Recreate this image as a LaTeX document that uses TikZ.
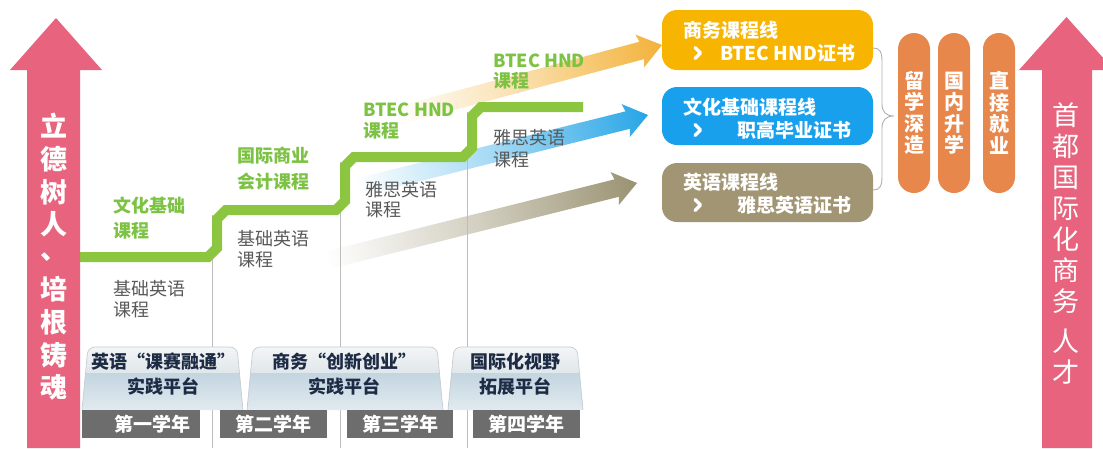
\documentclass[tikz,border=0pt]{standalone}
\usepackage{fontspec}
\setmainfont{Noto Sans CJK SC}
\definecolor{pinkA}{HTML}{E8637D}
\definecolor{stepG}{HTML}{8CC540}
\definecolor{greenT}{HTML}{7CC243}
\definecolor{grayT}{HTML}{595959}
\definecolor{lineG}{HTML}{BDBDBD}
\definecolor{arrY}{HTML}{F3B23A}
\definecolor{arrB}{HTML}{27A5E6}
\definecolor{arrO}{HTML}{9A9272}
\definecolor{boxY}{HTML}{F7B400}
\definecolor{boxB}{HTML}{19A0EC}
\definecolor{boxO}{HTML}{A29574}
\definecolor{pillO}{HTML}{E8874C}
\definecolor{barG}{HTML}{6D6D6D}
\definecolor{tabT}{HTML}{1E2B45}
\definecolor{tabA}{HTML}{F4F6F7}
\definecolor{tabB}{HTML}{E0E6EA}
\definecolor{tabC}{HTML}{C3D5E0}
\definecolor{tabD}{HTML}{E2EBF0}
\definecolor{tabL}{HTML}{C5CCD2}
\definecolor{braceG}{HTML}{B0B0B0}
\newcommand\mytab[2]{%
  \begin{scope}
    \clip (#1,410) [rounded corners=7] -- (#1+6,347) -- (#2-6,347) [sharp corners] -- (#2,410) -- cycle;
    \shade[top color=tabA,bottom color=tabB] (#1,346) rectangle (#2,373);
    \shade[top color=tabC,bottom color=tabD] (#1,373) rectangle (#2,411);
  \end{scope}
  \draw[tabL,line width=0.7] (#1,410) [rounded corners=7] -- (#1+6,347) -- (#2-6,347) [sharp corners] -- (#2,410);
}
\tikzset{
  glab/.style={anchor=west,inner sep=0,align=left,text=greenT,font=\bfseries\fontsize{18}{#1}\selectfont},
  tlab/.style={anchor=west,inner sep=0,align=left,text=grayT,font=\fontsize{18}{#1}\selectfont},
  stepline/.style={draw=stepG,line width=10,miter limit=4},
  vline/.style={draw=lineG,line width=0.8},
  tabtext/.style={inner sep=0,align=center,text=tabT,font=\bfseries\fontsize{18}{25}\selectfont},
  yearbar/.style={fill=barG,text=white,inner sep=0,minimum height=28,font=\bfseries\fontsize{19}{19}\selectfont},
  cbox/.style={rounded corners=15,inner sep=0,minimum width=211},
  btext/.style={anchor=west,inner sep=0,text=white,font=\bfseries\fontsize{19}{19}\selectfont},
  chev/.style={draw=white,line width=3.4,line cap=round,line join=round},
  pill/.style={fill=pillO,rounded corners=16,minimum width=32,minimum height=160,inner sep=0},
  pilltext/.style={inner sep=0,align=center,text=white,font=\bfseries\fontsize{20}{21.5}\selectfont},
  vtext/.style={inner sep=0,align=center,text=white}
}
\begin{document}
\begin{tikzpicture}[x=1pt,y=-1pt]
\useasboundingbox (0,0) rectangle (1103,448);
\clip (0,0) rectangle (1103,448);

% gradient arrows
\begin{scope}[transform canvas={shift={(662,45)},rotate=15}]
  \shade[left color=white,right color=arrY,middle color=arrY!45]
    (-275,-9) -- (-21,-9) -- (-23,-17) -- (0,0) -- (-23,17) -- (-21,9) -- (-275,9) -- cycle;
\end{scope}
\begin{scope}[transform canvas={shift={(648,115)},rotate=14}]
  \shade[left color=white,right color=arrB,middle color=arrB!45]
    (-300,-9) -- (-21,-9) -- (-23,-17) -- (0,0) -- (-23,17) -- (-21,9) -- (-300,9) -- cycle;
\end{scope}
\begin{scope}[transform canvas={shift={(637,183)},rotate=14}]
  \shade[left color=white,right color=arrO,middle color=arrO!45]
    (-320,-9) -- (-21,-9) -- (-23,-17) -- (0,0) -- (-23,17) -- (-21,9) -- (-320,9) -- cycle;
\end{scope}

% vertical separators
\draw[vline] (212,215) -- (212,448);
\draw[vline] (340,162) -- (340,448);
\draw[vline] (467,112) -- (467,448);

% green steps
\draw[stepline] (80,257) -- (208,257) -- (217,248) -- (217,219) -- (226,210) -- (336,210) -- (345,201) -- (345,166) -- (354,157) -- (463,157) -- (472,148) -- (472,116) -- (481,107) -- (583,107);

% labels
\node[glab=25] (g1) at (113,218) {文化基础\\课程};
\node[glab=26] (g2) at (237,169) {国际商业\\会计课程};
\node[glab=21] (g3) at (363,121) {BTEC HND\\课程};
\node[glab=20] (g4) at (493,72) {BTEC HND\\课程};
\node[tlab=21] (t1) at (113,299) {基础英语\\课程};
\node[tlab=21] (t2) at (237,249) {基础英语\\课程};
\node[tlab=20] (t3) at (365,200) {雅思英语\\课程};
\node[tlab=22] (t4) at (493,149) {雅思英语\\课程};

% pink arrows
\fill[pinkA] (27,448) -- (27,70) -- (10,70) -- (56,18) -- (102,70) -- (80,70) -- (80,448) -- cycle;
\node[vtext,font=\bfseries\fontsize{27}{32.6}\selectfont] (lt) at (54,257) {立\\德\\树\\人\\\raisebox{8pt}{、}\\培\\根\\铸\\魂};
\fill[pinkA] (1042,448) -- (1042,70) -- (1019,70) -- (1066.5,17) -- (1114,70) -- (1092,70) -- (1092,448) -- cycle;
\node[vtext,font=\fontsize{27}{31}\selectfont] (rt) at (1066,244) {首\\都\\国\\际\\化\\商\\务\\[9pt]人\\才};

% platforms
\mytab{82}{243}
\mytab{247}{443}
\mytab{448}{583}
\node[tabtext] (p1) at (163,374) {英语“课赛融通”\\实践平台};
\node[tabtext] (p2) at (344,374) {商务“创新创业”\\实践平台};
\node[tabtext] (p3) at (515,374) {国际化视野\\拓展平台};

% year bars
\node[yearbar,minimum width=118] (y1) at (141,424) {\hspace*{22pt}第一学年};
\node[yearbar,minimum width=107] (y2) at (273.5,424) {第二学年};
\node[yearbar,minimum width=106] (y3) at (400,424) {第三学年};
\node[yearbar,minimum width=107] (y4) at (526.5,424) {第四学年};

% course line boxes
\node[cbox,fill=boxY,minimum height=60] (bY) at (767.5,40) {};
\node[cbox,fill=boxB,minimum height=58] (bB) at (767.5,116) {};
\node[cbox,fill=boxO,minimum height=59] (bO) at (767.5,192.5) {};
\node[btext] (bY1) at (683,30) {商务课程线};
\node[btext] (bY2) at (720,53) {BTEC HND证书};
\node[btext] (bB1) at (683,107) {文化基础课程线};
\node[btext] (bB2) at (737,130) {职高毕业证书};
\node[btext] (bO1) at (683,182) {英语课程线};
\node[btext] (bO2) at (737,205) {雅思英语证书};
\coordinate (cY) at (698,53);
\coordinate (cB) at (698,130);
\coordinate (cO) at (698,205);
\foreach \c in {cY,cB,cO}
  \draw[chev] (\c) ++(-3,-5.5) -- ++(5.5,5.5) -- ++(-5.5,5.5);

% brace
\coordinate (brT) at (bY.east |- 0,48);
\coordinate (brB) at (bO.east |- 0,190);
\coordinate (brM) at (894,116);
\draw[braceG,line width=0.9] (brT) .. controls (880,48) and (882,52) .. (882,62) -- (882,104)
  .. controls (882,112) and (886,116) .. (brM)
  .. controls (886,116) and (882,120) .. (882,128) -- (882,176)
  .. controls (882,186) and (880,190) .. (brB);

% outcome pills
\node[pill] (o1) at (914,113) {};
\node[pill] (o2) at (954,113) {};
\node[pill] (o3) at (999,113) {};
\node[pilltext] (o1t) at (914,113) {留\\学\\深\\造};
\node[pilltext] (o2t) at (954,113) {国\\内\\升\\学};
\node[pilltext] (o3t) at (999,113) {直\\接\\就\\业};
\end{tikzpicture}
\end{document}
